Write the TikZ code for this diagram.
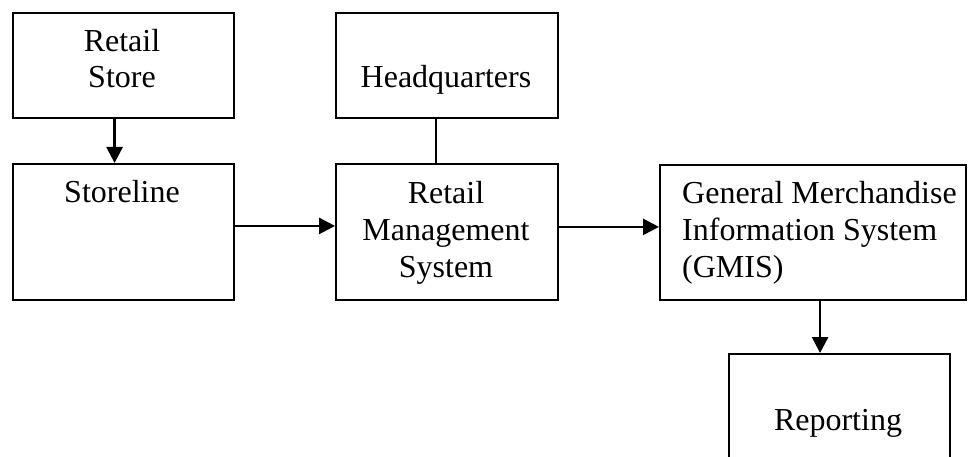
\documentclass[tikz,border=0pt]{standalone}
\usepackage{fontspec}
\setmainfont{Liberation Serif}
\usetikzlibrary{arrows.meta,calc}
\begin{document}
\begin{tikzpicture}[x=1pt,y=-1pt,
  box/.style={draw=black,line width=2pt,minimum width=#1,inner sep=0,anchor=north west},
  lbl/.style={font=\fontsize{32}{37}\selectfont,inner sep=0,anchor=base},
  lbll/.style={lbl,anchor=base west},
  arr/.style={line width=2.6pt,-{Triangle[length=16pt,width=16pt]}},
  plain/.style={line width=1.8pt}]
\useasboundingbox (0,0) rectangle (968,457);
\clip (0,0) rectangle (968,457);

% boxes
\node[box=221pt,minimum height=105pt] (store) at (12,12) {};
\node[box=221pt,minimum height=136pt] (storeline) at (12,163) {};
\node[box=222pt,minimum height=105pt] (hq) at (335,12) {};
\node[box=222pt,minimum height=136pt] (rms) at (335,163) {};
\node[box=306pt,minimum height=135pt] (gmis) at (659,164) {};
\node[box=221pt,minimum height=140pt] (report) at (728,353) {};

% labels
\node[lbl] (t-retail) at (122,52) {Retail};
\node[lbl] (t-store) at (122,88) {Store};
\node[lbl] (t-storeline) at (122,202) {Storeline};
\node[lbl] (t-hq) at (446,88) {Headquarters};
\node[lbl] (t-rms1) at (446,203) {Retail};
\node[lbl] (t-rms2) at (446,240) {Management};
\node[lbl] (t-rms3) at (446,277) {System};
\node[lbll] (t-gmis1) at (682,203) {General Merchandise};
\node[lbll] (t-gmis2) at (682,240) {Information System};
\node[lbll] (t-gmis3) at (682,277) {(GMIS)};
\node[lbl] (t-report) at (838,430) {Reporting};

% connectors
\coordinate (a1) at ($(store.south west)!0.46!(store.south east)$);
\draw[arr] (a1) -- (a1 |- storeline.north);
\coordinate (a2) at ($(hq.south west)!0.45!(hq.south east)$);
\draw[plain] (a2) -- (a2 |- rms.north);
\coordinate (a3) at ($(storeline.north east)!0.456!(storeline.south east)$);
\draw[arr] (a3) -- (a3 -| rms.west);
\coordinate (a4) at ($(rms.north east)!0.463!(rms.south east)$);
\draw[arr] (a4) -- (a4 -| gmis.west);
\coordinate (a5) at ($(gmis.south west)!0.523!(gmis.south east)$);
\draw[arr] (a5) -- (a5 |- report.north);
\end{tikzpicture}
\end{document}
